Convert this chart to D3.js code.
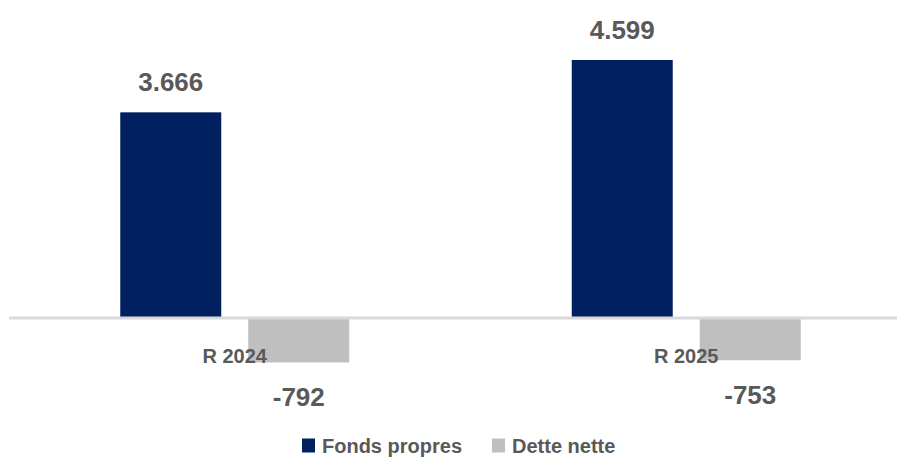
<!DOCTYPE html>
<html>
<head>
<meta charset="utf-8">
<script src="https://cdn.jsdelivr.net/npm/d3@7"></script>
<style>
  html, body { margin: 0; padding: 0; background: #fff; }
  text { font-family: "Liberation Sans", Arial, sans-serif; font-weight: bold; fill: #595959; }
</style>
</head>
<body>
<div id="chart"></div>
<script>
const categories = ['R 2024', 'R 2025'];
const seriesNames = ['Fonds propres', 'Dette nette'];
const fondsPropres = [3666, 4599];
const detteNette = [-792, -753];
const valueLabels = [['3.666', '4.599'], ['-792', '-753']];
const colors = ['#002060', '#bfbfbf'];

const width = 897, height = 458;
const svg = d3.select('#chart').append('svg')
  .attr('width', width).attr('height', height);

const x = d3.scaleBand()
  .domain(categories)
  .range([9, 912]);

const inner = d3.scaleBand()
  .domain(seriesNames)
  .range([0, 229])
  .paddingInner(0.211);

const y = d3.scaleLinear()
  .domain([-1000, 5000])
  .range([374.1, 37.5]);

const rows = categories.map((c, i) => ({
  cat: c,
  values: [fondsPropres[i], detteNette[i]]
}));

const barData = [];
rows.forEach((r, i) => {
  r.values.forEach((v, j) => {
    barData.push({ cat: r.cat, series: seriesNames[j], v, label: valueLabels[j][i], color: colors[j] });
  });
});

const groupOffset = (x.bandwidth() - inner.range()[1]) / 2;
const bx = d => x(d.cat) + groupOffset + inner(d.series);

svg.append('g').selectAll('rect')
  .data(barData)
  .enter().append('rect')
  .attr('x', bx)
  .attr('width', inner.bandwidth())
  .attr('y', d => Math.min(y(d.v), y(0)))
  .attr('height', d => Math.abs(y(d.v) - y(0)))
  .attr('fill', d => d.color);

// zero line
svg.append('line')
  .attr('x1', 9).attr('x2', width)
  .attr('y1', y(0)).attr('y2', y(0))
  .attr('stroke', '#d9d9d9').attr('stroke-width', 3);

// category labels
svg.append('g').selectAll('text')
  .data(categories)
  .enter().append('text')
  .attr('x', d => x(d) + x.bandwidth() / 2)
  .attr('y', 363)
  .attr('text-anchor', 'middle')
  .style('font-size', '20px')
  .text(d => d);

// value labels
svg.append('g').selectAll('text')
  .data(barData)
  .enter().append('text')
  .attr('x', d => bx(d) + inner.bandwidth() / 2)
  .attr('y', d => d.v >= 0 ? y(d.v) - 21 : y(d.v) + 44)
  .attr('text-anchor', 'middle')
  .style('font-size', '26px')
  .text(d => d.label);

// legend
const legend = svg.append('g');
const legendPos = [302, 492];
seriesNames.forEach((s, i) => {
  legend.append('rect')
    .attr('x', legendPos[i]).attr('y', 438.5)
    .attr('width', 13).attr('height', 14)
    .attr('fill', colors[i]);
  legend.append('text')
    .attr('x', legendPos[i] + 20).attr('y', 453)
    .style('font-size', '20px')
    .text(s);
});
</script>
</body>
</html>
